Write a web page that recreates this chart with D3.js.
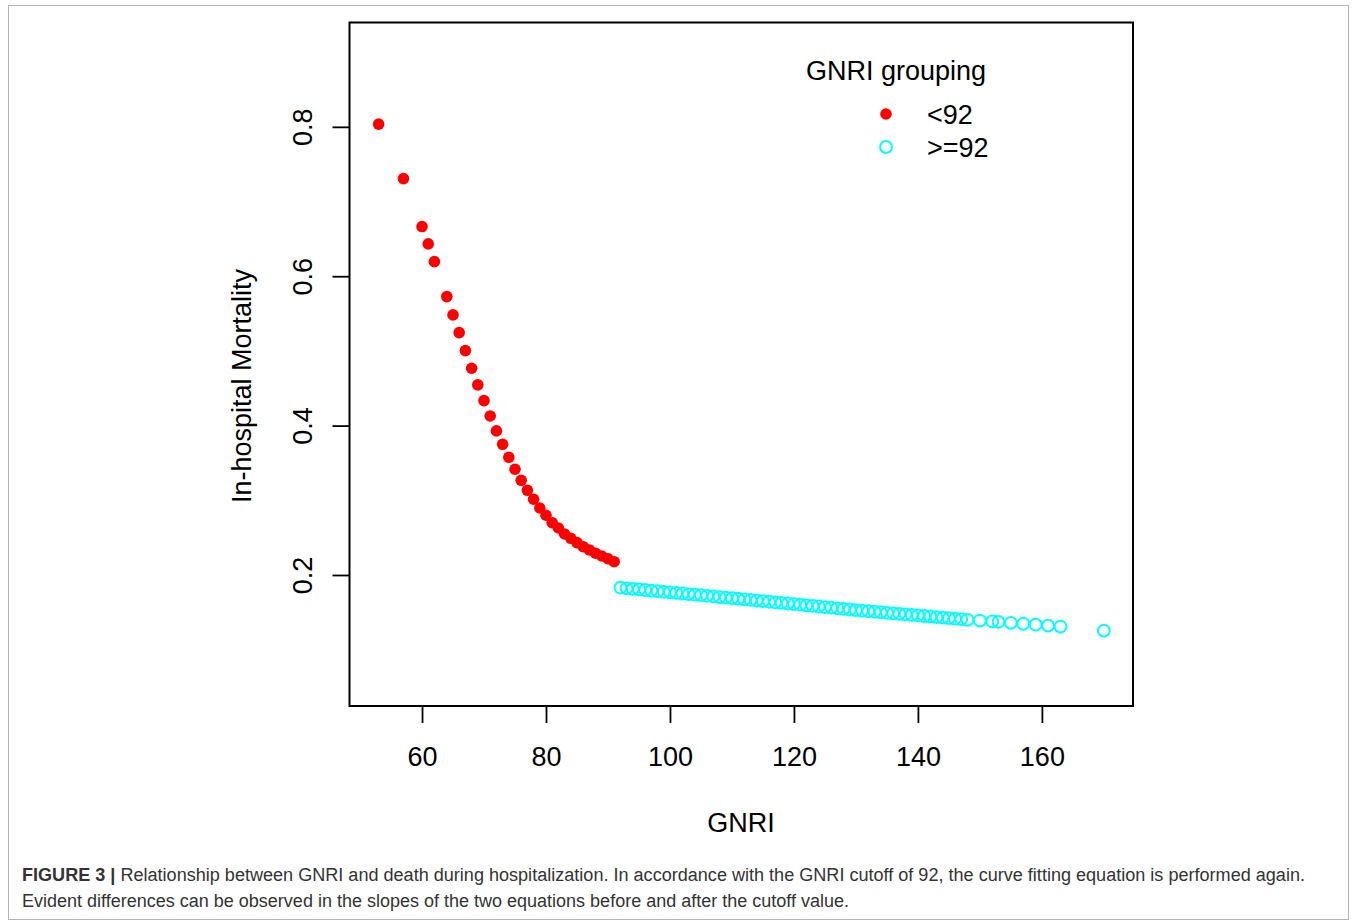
<!DOCTYPE html>
<html>
<head>
<meta charset="utf-8">
<script src="https://cdn.jsdelivr.net/npm/d3@7"></script>
<style>
  body { margin: 0; background: #fff; }
  svg text { font-family: "Liberation Sans", Arial, sans-serif; }
</style>
</head>
<body>
<div id="chart"></div>
<script>
// GNRI < 92 (filled red)
const lowGnri = [53, 57, 60, 61, 62, 64, 65, 66, 67, 68, 69, 70, 71, 72, 73, 74, 75, 76, 77,
  78, 79, 80, 81, 82, 83, 84, 85, 86, 87, 88, 89, 90, 91];
const lowMortality = [0.8036, 0.7307, 0.6665, 0.6433, 0.6196, 0.5727, 0.5482, 0.5245, 0.5004,
  0.4768, 0.4545, 0.4334, 0.4129, 0.3929, 0.3750, 0.3576, 0.3416, 0.3268, 0.3134, 0.3014,
  0.2897, 0.2800, 0.2700, 0.2629, 0.2549, 0.2491, 0.2433, 0.2379, 0.2335, 0.2291, 0.2254,
  0.2218, 0.2178];

// GNRI >= 92 (open cyan)
const highGnri = [92, 93, 94, 95, 96, 97, 98, 99, 100, 101, 102, 103, 104, 105, 106, 107, 108,
  109, 110, 111, 112, 113, 114, 115, 116, 117, 118, 119, 120, 121, 122, 123, 124, 125, 126,
  127, 128, 129, 130, 131, 132, 133, 134, 135, 136, 137, 138, 139, 140, 141, 142, 143, 144,
  145, 146, 147, 148, 150, 152, 153, 155, 157, 159, 161, 163, 170];
const highMortality = [0.1830, 0.1822, 0.1814, 0.1807, 0.1799, 0.1791, 0.1783, 0.1775, 0.1768,
  0.1760, 0.1752, 0.1744, 0.1736, 0.1729, 0.1721, 0.1713, 0.1705, 0.1697, 0.1690, 0.1682,
  0.1674, 0.1666, 0.1658, 0.1650, 0.1642, 0.1634, 0.1626, 0.1618, 0.1610, 0.1602, 0.1594,
  0.1586, 0.1578, 0.1570, 0.1562, 0.1554, 0.1546, 0.1538, 0.1530, 0.1523, 0.1516, 0.1508,
  0.1501, 0.1494, 0.1487, 0.1480, 0.1472, 0.1465, 0.1458, 0.1451, 0.1444, 0.1436, 0.1429,
  0.1422, 0.1415, 0.1408, 0.1400, 0.1390, 0.1378, 0.1372, 0.1360, 0.1347, 0.1335, 0.1322,
  0.1310, 0.1255];

const xTicks = [60, 80, 100, 120, 140, 160];
const yTicks = [0.2, 0.4, 0.6, 0.8];
const legendLabels = ["<92", ">=92"];

const W = 1357, H = 922;
const box = {left: 349.5, top: 22.5, right: 1133, bottom: 706};

const svg = d3.select("#chart").append("svg")
  .attr("width", W).attr("height", H);

// figure frame
svg.append("rect")
  .attr("x", 8.5).attr("y", 5.5).attr("width", 1340).attr("height", 914)
  .attr("fill", "none").attr("stroke", "#b4b4b4").attr("stroke-width", 1);

const x = d3.scaleLinear().domain([48.3, 174.7]).range([box.left, box.right]);
const y = d3.scaleLinear().domain([0.0246, 0.9397]).range([box.bottom, box.top]);

const fontSize = 27;

// x axis
const xAxis = svg.append("g")
  .attr("transform", `translate(0,${box.bottom})`)
  .call(d3.axisBottom(x).tickValues(xTicks).tickSize(17).tickPadding(24).tickFormat(d3.format("d")));
xAxis.select(".domain").remove();
xAxis.selectAll("line").attr("stroke", "#000").attr("stroke-width", 1.8);
xAxis.selectAll("text")
  .attr("font-size", fontSize).attr("fill", "#000")
  .attr("font-family", "Liberation Sans, Arial, sans-serif");

// y axis, labels rotated as in R
const yAxis = svg.append("g")
  .attr("transform", `translate(${box.left},0)`)
  .call(d3.axisLeft(y).tickValues(yTicks).tickSize(17).tickFormat(d3.format(".1f")));
yAxis.select(".domain").remove();
yAxis.selectAll("line").attr("stroke", "#000").attr("stroke-width", 1.8);
yAxis.selectAll("text").remove();
yAxis.selectAll(".tick").append("text")
  .attr("transform", "translate(-37.5,0) rotate(-90)")
  .attr("text-anchor", "middle")
  .attr("font-size", fontSize).attr("fill", "#000")
  .text(d => d3.format(".1f")(d));

// plot box
svg.append("rect")
  .attr("x", box.left).attr("y", box.top)
  .attr("width", box.right - box.left).attr("height", box.bottom - box.top)
  .attr("fill", "none").attr("stroke", "#000").attr("stroke-width", 2);

// points
svg.append("g").selectAll("circle")
  .data(lowGnri.map((g, i) => [g, lowMortality[i]]))
  .enter().append("circle")
  .attr("cx", d => x(d[0])).attr("cy", d => y(d[1]))
  .attr("r", 5.8).attr("fill", "#ff0000");

svg.append("g").selectAll("circle")
  .data(highGnri.map((g, i) => [g, highMortality[i]]))
  .enter().append("circle")
  .attr("cx", d => x(d[0])).attr("cy", d => y(d[1]))
  .attr("r", 5.9).attr("fill", "none")
  .attr("stroke", "#00ffff").attr("stroke-width", 2);

// axis titles
svg.append("text")
  .attr("x", 741).attr("y", 832)
  .attr("text-anchor", "middle").attr("font-size", fontSize)
  .text("GNRI");

svg.append("text")
  .attr("transform", "translate(251,386) rotate(-90)")
  .attr("text-anchor", "middle").attr("font-size", fontSize)
  .text("In-hospital Mortality");

// legend
const legend = svg.append("g");
legend.append("text")
  .attr("x", 806).attr("y", 80).attr("font-size", fontSize)
  .text("GNRI grouping");
legendLabels.forEach((lab, i) => {
  const cy = 114 + i * 33;
  if (i === 0) {
    legend.append("circle").attr("cx", 886).attr("cy", cy).attr("r", 5.8).attr("fill", "#ff0000");
  } else {
    legend.append("circle").attr("cx", 886).attr("cy", cy).attr("r", 5.9)
      .attr("fill", "none").attr("stroke", "#00ffff").attr("stroke-width", 2);
  }
  legend.append("text")
    .attr("x", 927).attr("y", cy + 9.5).attr("font-size", fontSize)
    .text(lab);
});

// caption
const cap1 = svg.append("text")
  .attr("x", 22).attr("y", 881)
  .attr("font-size", 18).attr("fill", "#333")
  .attr("font-family", "Liberation Sans Narrow, Arial Narrow, sans-serif")
  .attr("textLength", 1283).attr("lengthAdjust", "spacingAndGlyphs");
cap1.append("tspan").attr("font-weight", "bold").text("FIGURE 3 | ");
cap1.append("tspan").text("Relationship between GNRI and death during hospitalization. In accordance with the GNRI cutoff of 92, the curve fitting equation is performed again.");

svg.append("text")
  .attr("x", 22).attr("y", 907)
  .attr("font-size", 18).attr("fill", "#333")
  .attr("font-family", "Liberation Sans Narrow, Arial Narrow, sans-serif")
  .attr("textLength", 827).attr("lengthAdjust", "spacingAndGlyphs")
  .text("Evident differences can be observed in the slopes of the two equations before and after the cutoff value.");
</script>
</body>
</html>
